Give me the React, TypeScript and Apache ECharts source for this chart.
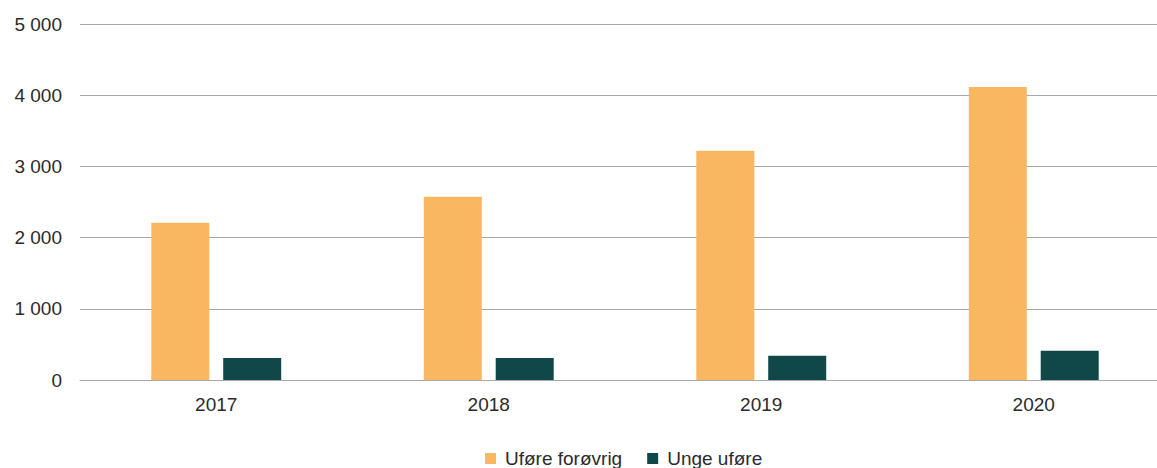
import React, { useEffect, useRef } from "react";
import * as echarts from "echarts";

const categories = ["2017", "2018", "2019", "2020"];
const uforeForovrig = [2210, 2575, 3220, 4115];
const ungeUfore = [310, 310, 340, 410];
const seriesNames = ["Uføre forøvrig", "Unge uføre"];

const FONT = "'Liberation Sans', Arial, Helvetica, sans-serif";

function fmt(v: number): string {
  return String(v).replace(/\B(?=(\d{3})+(?!\d))/g, " ");
}

export default function App() {
  const ref = useRef<HTMLDivElement>(null);
  useEffect(() => {
    if (!ref.current) return;
    const chart = echarts.init(ref.current, undefined, { renderer: "svg" });
    chart.setOption({
      animation: false,
      textStyle: { fontFamily: FONT },
      grid: { left: 80, right: 30, top: 24, bottom: 88, containLabel: false },
      legend: {
        left: 485,
        top: 449,
        padding: 0,
        icon: "rect",
        itemWidth: 11,
        itemHeight: 11,
        itemGap: 25,
        textStyle: { fontFamily: FONT, fontSize: 19, color: "#2b2b2b", padding: [0, 0, 0, 4] },
        data: seriesNames,
      },
      xAxis: {
        type: "category",
        data: categories,
        axisLine: { show: true, lineStyle: { color: "#a8a8a8", width: 1 } },
        axisTick: { show: false },
        axisLabel: { fontFamily: FONT, fontSize: 19, color: "#2b2b2b", margin: 15 },
      },
      yAxis: {
        type: "value",
        min: 0,
        max: 5000,
        interval: 1000,
        axisLine: { show: false },
        axisTick: { show: false },
        splitLine: { lineStyle: { color: "#a8a8a8", width: 1 } },
        axisLabel: {
          fontFamily: FONT,
          fontSize: 19,
          color: "#2b2b2b",
          margin: 18,
          formatter: (v: number) => fmt(v),
        },
      },
      series: [
        {
          name: seriesNames[0],
          type: "bar",
          data: uforeForovrig,
          barWidth: 58,
          barGap: "24%",
          itemStyle: { color: "#FAB762" },
        },
        {
          name: seriesNames[1],
          type: "bar",
          data: ungeUfore,
          barWidth: 58,
          barGap: "24%",
          itemStyle: { color: "#10484A" },
        },
      ],
    });
    return () => chart.dispose();
  }, []);
  return (
    <div
      style={{
        position: "fixed",
        left: 0,
        top: 0,
        width: 1157,
        height: 468,
        overflow: "hidden",
        background: "#fff",
      }}
    >
      <div ref={ref} style={{ width: 1200, height: 468 }} />
    </div>
  );
}
